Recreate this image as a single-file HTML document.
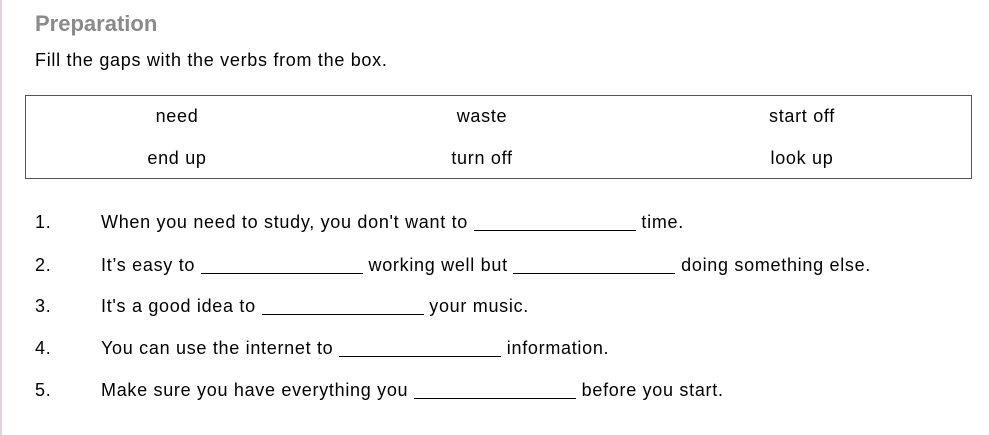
<!DOCTYPE html>
<html><head><style>
body{margin:0;width:989px;height:435px;background:#fff;position:relative;overflow:hidden;font-family:"Liberation Sans",Arial,sans-serif;color:#000}
.pink{position:absolute;left:0;top:0;width:2px;height:435px;background:#e6cfe0}
.a{position:absolute;white-space:nowrap;font-size:18px;line-height:20px;letter-spacing:0.7px}
.c{transform:translateX(-50%)}
.b{display:inline-block;width:162px;border-bottom:1px solid #000;height:14px;vertical-align:-3px}
.box{position:absolute;left:25px;top:95px;width:945px;height:82px;border:1px solid #555}
</style></head><body>
<div class="pink"></div>
<div class="a" style="left:35px;top:14px;font-size:22px;letter-spacing:0;font-weight:bold;color:#8a8a8a">Preparation</div>
<div class="a" style="left:35px;top:50px">Fill the gaps with the verbs from the box.</div>
<div class="box"></div>
<div class="a c" style="left:177px;top:106px">need</div>
<div class="a c" style="left:482px;top:106px">waste</div>
<div class="a c" style="left:802px;top:106px">start off</div>
<div class="a c" style="left:177px;top:148px">end up</div>
<div class="a c" style="left:482px;top:148px">turn off</div>
<div class="a c" style="left:802px;top:148px">look up</div>
<div class="a" style="left:35px;top:212px">1.</div>
<div class="a" style="left:101px;top:212px">When you need to study, you don't want to <span class="b"></span> time.</div>
<div class="a" style="left:35px;top:255px">2.</div>
<div class="a" style="left:101px;top:255px">It’s easy to <span class="b"></span> working well but <span class="b"></span> doing something else.</div>
<div class="a" style="left:35px;top:296px">3.</div>
<div class="a" style="left:101px;top:296px">It's a good idea to <span class="b"></span> your music.</div>
<div class="a" style="left:35px;top:338px">4.</div>
<div class="a" style="left:101px;top:338px">You can use the internet to <span class="b"></span> information.</div>
<div class="a" style="left:35px;top:380px">5.</div>
<div class="a" style="left:101px;top:380px">Make sure you have everything you <span class="b"></span> before you start.</div>
</body></html>
